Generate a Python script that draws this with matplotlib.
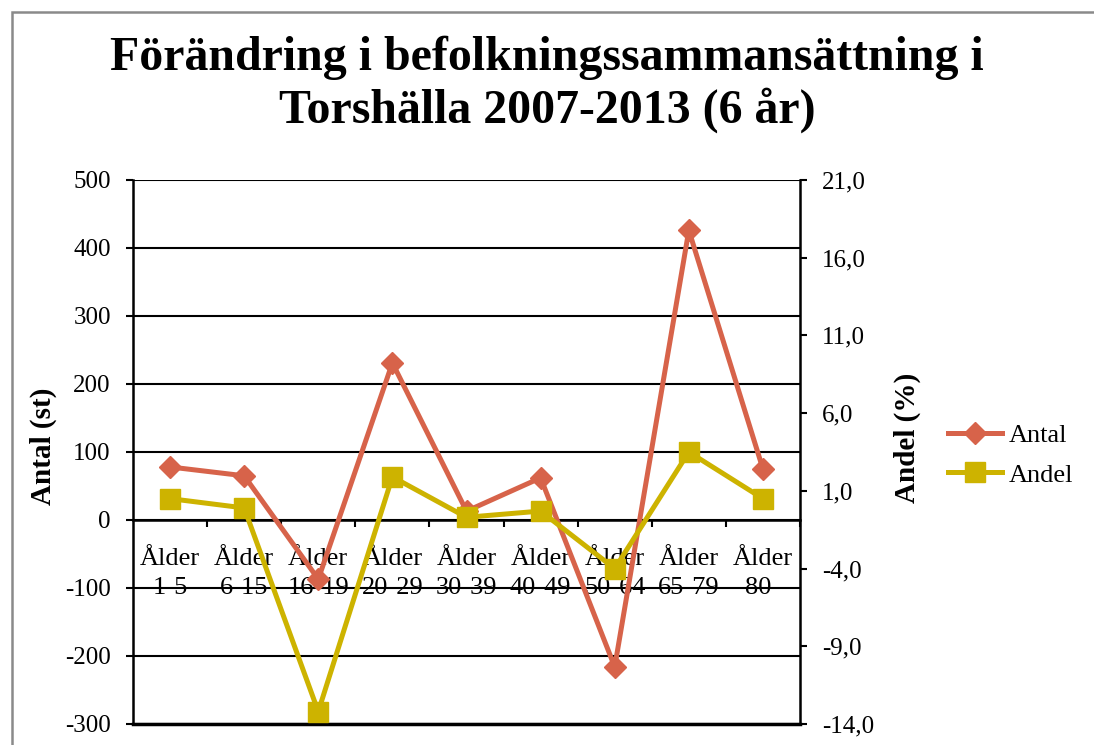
import matplotlib
matplotlib.use("Agg")
import matplotlib.pyplot as plt
from matplotlib.patches import Rectangle
from matplotlib.ticker import FixedLocator, FuncFormatter, NullFormatter

categories = ["Ålder\n1-5", "Ålder\n6-15", "Ålder\n16-19", "Ålder\n20-29", "Ålder\n30-39",
              "Ålder\n40-49", "Ålder\n50-64", "Ålder\n65-79", "Ålder\n80-"]
antal = [78, 65, -87, 231, 13, 62, -216, 426, 75]
andel = [0.5, -0.1, -13.2, 1.9, -0.7, -0.3, -4.0, 3.5, 0.5]

title = "Förändring i befolkningssammansättning i\nTorshälla 2007-2013 (6 år)"
left_label = "Antal (st)"
right_label = "Andel (%)"

c_antal = "#D7634A"
c_andel = "#CDB300"

plt.rcParams['font.family'] = ['Liberation Serif', 'DejaVu Serif']
plt.rcParams['axes.unicode_minus'] = False

W, H = 1094, 745
fig = plt.figure(figsize=(W / 100, H / 100), dpi=100)
fig.patches.append(Rectangle((12 / W, -0.1), 1.2, 1.1 - 12 / H, transform=fig.transFigure,
                             fill=False, edgecolor="#8a8a8a", linewidth=1.8))

ax = fig.add_axes([133 / W, 1 - 724 / H, (800 - 133) / W, (724 - 180) / H])
ax2 = ax.twinx()

x = list(range(len(categories)))
ax.set_xlim(-0.5, len(categories) - 0.5)
ax.set_ylim(-300, 500)
ax.set_yticks(range(-300, 501, 100))
ax.tick_params(axis='y', direction='out', length=5, width=1.5, labelsize=18, pad=11)
ax.grid(axis='y', color='black', linewidth=1.5)
ax.set_axisbelow(True)

for s in ['top', 'right']:
    ax.spines[s].set_visible(False)
ax.spines['left'].set_linewidth(1.8)
ax.spines['bottom'].set_position(('data', 0))
ax.spines['bottom'].set_linewidth(1.8)
ax.axhline(-300, color='black', linewidth=2.5, zorder=1, clip_on=False)

ax.xaxis.set_major_locator(FixedLocator([i + 0.5 for i in range(len(categories) - 1)] + [len(categories) - 0.5]))
ax.xaxis.set_major_formatter(NullFormatter())
ax.xaxis.set_minor_locator(FixedLocator(x))
ax.set_xticklabels(categories, minor=True)
ax.tick_params(axis='x', which='major', direction='out', length=5, width=1.5)
ax.tick_params(axis='x', which='minor', length=0, labelsize=19, pad=20)
for lbl in ax.get_xticklabels(minor=True):
    lbl.set_linespacing(1.45)

ax2.set_ylim(-14, 21)
ax2.set_yticks([-14, -9, -4, 1, 6, 11, 16, 21])
ax2.yaxis.set_major_formatter(FuncFormatter(lambda v, p: f"{v:.1f}".replace('.', ',')))
ax2.tick_params(axis='y', direction='out', length=5, width=1.5, labelsize=18, pad=11)
for s in ['top', 'left', 'bottom']:
    ax2.spines[s].set_visible(False)
ax2.spines['right'].set_linewidth(1.8)

l1, = ax.plot(x, antal, color=c_antal, linewidth=3.6, marker='D', markersize=11,
              label="Antal", zorder=3, clip_on=False)
l2, = ax2.plot(x, andel, color=c_andel, linewidth=3.6, marker='s', markersize=14.5,
               label="Andel", zorder=3, clip_on=False)

fig.text(43 / W, 1 - 446 / H, left_label, rotation=90, ha='center', va='center',
         fontsize=21, fontweight='bold')
fig.text(907 / W, 1 - 438 / H, right_label, rotation=90, ha='center', va='center',
         fontsize=21, fontweight='bold')

fig.text(0.5, 1 - 84.5 / H, title, ha='center', va='center', fontsize=34.5, fontweight='bold',
         linespacing=1.21)

fig.legend(handles=[l1, l2], loc='center left', bbox_to_anchor=(948 / W, 1 - 455 / H),
           frameon=False, fontsize=19, handlelength=2.05, handletextpad=0.27,
           labelspacing=0.62, borderpad=0, borderaxespad=0)

fig.savefig("out.png", dpi=100)
